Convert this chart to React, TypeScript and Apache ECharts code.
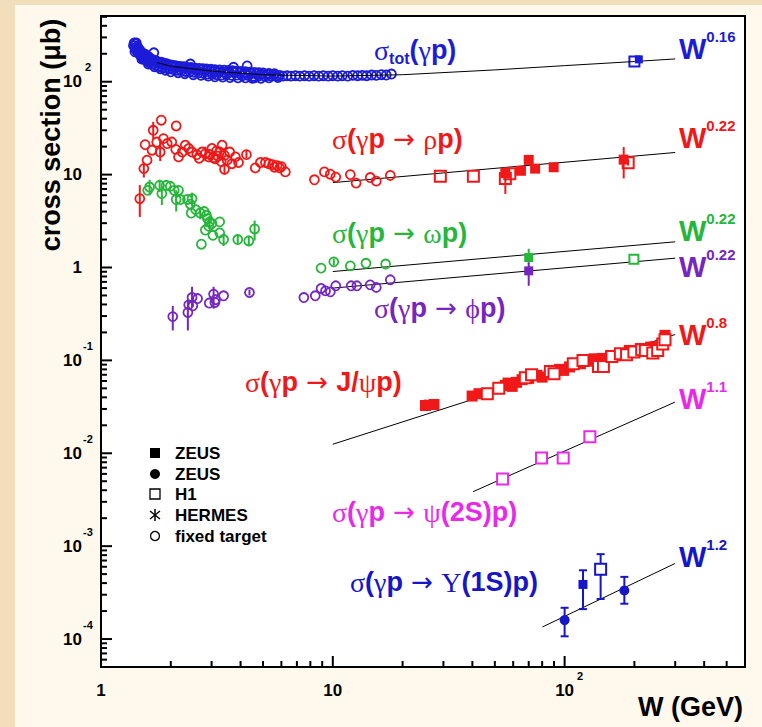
import React, { useEffect, useRef } from 'react';
import * as echarts from 'echarts';

const SANS = '"Liberation Sans", Arial, Helvetica, sans-serif';
const SERIF = '"Liberation Serif", "DejaVu Serif", "Times New Roman", serif';
const ARROWFONT = '"DejaVu Sans", "Liberation Sans", sans-serif';

const C_BLUE = '#1c1cd8';
const C_RED = '#f01818';
const C_GREEN = '#26b63a';
const C_PURPLE = '#7626c0';
const C_MAGENTA = '#e82ae8';
const C_UPS = '#1616c8';

const X_MIN = 1;
const X_MAX = 600;
const Y_MIN = 5e-5;
const Y_MAX = 510;

// ---------- tick labels ----------
const X_TICK_VALUES = [1, 10, 100];
const X_TICK_TEXTS = ['{pre| }{b|1}{sup| }', '{pre| }{b|10}{sup| }', '{pre| }{b|10}{sup|2}'];
const Y_TICK_VALUES = [1e-4, 1e-3, 1e-2, 0.1, 1, 10, 100];
const Y_TICK_TEXTS = ['{b|10}{sup|-4}', '{b|10}{sup|-3}', '{b|10}{sup|-2}', '{b|10}{sup|-1}', '{b|1}{sup| }', '{b|10}{sup| }', '{b|10}{sup|2}'];
const X_DECADES = [1, 10, 100];
const Y_DECADES = [1e-5, 1e-4, 1e-3, 1e-2, 0.1, 1, 10, 100];
const MINOR_MULT = [2, 3, 4, 5, 6, 7, 8, 9];

// ---------- sigma_tot(gamma p) ----------
const totFixed: number[][] = [
  [1.38, 245], [1.39, 262], [1.40, 230], [1.41, 255], [1.42, 218], [1.43, 240], [1.44, 208], [1.45, 228],
  [1.46, 200], [1.47, 218], [1.48, 192], [1.49, 208], [1.50, 185], [1.51, 198], [1.52, 178], [1.54, 190],
  [1.55, 172], [1.57, 182], [1.58, 166], [1.60, 176], [1.62, 160], [1.64, 170], [1.66, 156], [1.69, 205],
  [1.70, 165], [1.72, 150], [1.75, 160], [1.78, 146], [1.81, 156], [1.84, 143], [1.87, 153], [1.90, 140],
  [1.94, 150], [1.97, 138], [2.01, 147], [2.05, 135], [2.09, 145], [2.13, 133], [2.18, 143], [2.22, 131],
  [2.27, 141], [2.32, 129], [2.37, 139], [2.43, 155], [2.42, 128], [2.47, 137], [2.52, 126], [2.58, 135],
  [2.64, 125], [2.70, 134], [2.76, 123], [2.82, 132], [2.88, 121], [2.95, 131], [3.02, 120], [3.09, 129],
  [3.16, 119], [3.23, 128], [3.31, 118], [3.40, 127], [3.48, 119], [3.57, 126], [3.66, 117], [3.73, 143],
  [3.76, 125], [3.86, 118], [3.96, 124], [4.07, 116], [4.18, 123], [4.27, 148], [4.30, 117], [4.42, 122],
  [4.55, 115], [4.60, 110], [4.68, 121], [4.82, 116], [4.96, 120], [5.10, 114], [5.25, 119], [5.40, 115],
  [5.56, 118], [5.72, 114], [5.90, 117], [6.10, 115], [6.35, 116], [6.60, 115], [6.90, 116], [7.20, 115],
  [7.55, 116], [7.90, 115], [8.30, 116], [8.70, 115], [9.10, 116], [9.55, 115], [10.0, 116], [10.5, 115],
  [11.0, 116], [11.6, 115], [12.2, 117], [12.8, 116], [13.4, 117], [14.0, 116], [14.7, 118], [15.4, 117],
  [16.2, 119], [17.0, 118], [17.9, 121],
  [1.40, 210], [1.42, 262], [1.44, 235], [1.46, 222], [1.48, 212], [1.50, 205], [1.52, 195], [1.55, 198],
  [1.58, 185], [1.61, 185], [1.65, 175], [1.68, 172], [1.73, 168], [1.77, 160], [1.82, 162], [1.88, 158],
  [1.93, 155], [2.00, 152], [2.06, 150], [2.12, 148], [2.20, 146], [2.28, 145], [2.35, 143], [2.45, 142],
  [2.55, 140], [2.65, 139], [2.75, 138], [2.85, 137], [2.98, 136], [3.10, 135], [3.25, 134], [3.40, 133],
  [3.55, 132], [3.70, 131], [3.85, 130], [4.00, 129], [4.20, 128], [4.40, 127], [4.60, 126], [4.80, 125],
  [5.00, 124], [5.30, 123], [5.60, 122],
  [1.50, 175], [1.60, 155], [1.70, 145], [1.80, 138], [1.90, 133], [2.00, 128], [2.15, 125], [2.30, 122],
  [2.50, 119], [2.70, 117], [2.90, 115], [3.10, 113], [3.35, 112], [3.60, 111], [3.90, 110], [4.20, 110],
  [4.50, 109], [4.90, 109], [5.30, 110], [5.80, 111],
];
const totH1: number[][] = [[200, 165]];
const totZEUS: number[][] = [[209, 174]];
const totFit: number[][] = [
  [1.75, 160], [2, 147], [3, 130], [5, 119], [10, 115], [20, 119], [50, 134], [100, 149], [200, 165], [300, 176],
];

// ---------- rho ----------
const rhoFixed: number[][] = [
  [1.47, 5.5], [1.53, 11.6], [1.55, 21], [1.58, 14.3], [1.66, 18.3], [1.68, 30], [1.74, 22.4], [1.80, 17.5],
  [1.82, 38.5], [1.86, 24.4], [1.93, 21.6], [2.02, 22.4], [2.10, 18.7], [2.11, 33.4], [2.16, 15.5], [2.24, 17.5],
  [2.31, 20.7], [2.39, 19.1], [2.47, 17.5], [2.59, 16.4], [2.65, 15.0], [2.73, 17.5], [2.82, 16.8], [2.91, 15.5],
  [2.95, 16.5], [3.01, 19.1], [3.05, 15.2], [3.11, 14.8], [3.15, 18.0], [3.20, 15.8], [3.25, 17.5], [3.30, 13.8],
  [3.33, 20.7], [3.41, 16.1], [3.41, 11.4], [3.50, 14.3], [3.59, 17.5], [3.67, 13.1], [3.80, 15.5], [3.92, 13.5],
  [4.24, 16.4], [4.63, 11.8], [4.87, 13.5], [5.12, 13.5], [5.30, 13.1], [5.50, 12.8], [5.60, 12.0], [5.75, 12.5],
  [5.90, 11.8], [6.00, 12.2], [6.24, 10.7],
  [8.33, 8.8], [9.2, 10.7], [9.75, 10.1], [10.3, 9.4], [11.9, 10.0], [12.6, 8.1], [14.5, 9.3], [15.4, 8.5], [17.7, 9.8],
];
const rhoFixedErr: number[][] = [
  [1.47, 3.5, 7.7], [1.53, 9.3, 13.5], [1.68, 24, 37], [1.80, 14, 22.5], [2.82, 14, 20], [3.41, 10, 13], [4.24, 15, 18],
];
const rhoH1: number[][] = [[29.1, 9.6], [40.4, 9.6], [55.5, 9.1], [58, 10.2], [188, 13.4]];
const rhoZEUS: number[][] = [[55.5, 10.4], [64.8, 11.0], [70, 14.4], [74.6, 11.6], [89.7, 12.0], [179.8, 14.5]];
const rhoHeraErr: number[][] = [[55.5, 6.2, 10.5], [70, 13, 16.2], [179.8, 9.1, 19.8], [188, 12.5, 14.5]];
const rhoFit: number[][] = [[10, 8.2], [300, 17.3]];

// ---------- omega ----------
const omegaFixed: number[][] = [
  [1.59, 6.77], [1.62, 7.35], [1.79, 7.67], [1.83, 6.24], [1.91, 7.67], [1.99, 7.48], [2.07, 6.77], [2.16, 6.77],
  [2.11, 5.39], [2.20, 5.39], [2.36, 5.4], [2.43, 4.8], [2.47, 5.5], [2.45, 3.86], [2.56, 4.2], [2.68, 3.86],
  [2.79, 4.0], [2.85, 3.65], [2.88, 3.35], [2.94, 3.1], [2.92, 2.77], [3.01, 2.97], [3.25, 3.1], [2.82, 2.53],
  [3.04, 2.22], [3.25, 2.36], [3.38, 2.0], [2.71, 1.78], [3.89, 2.0], [4.34, 1.93], [4.60, 2.6],
  [8.9, 0.985], [10.1, 1.15], [11.9, 1.04], [13.9, 1.11], [16.9, 1.09],
];
const omegaFixedErr: number[][] = [
  [1.62, 6.0, 8.8], [1.79, 6.5, 8.8], [1.83, 4.7, 7.5], [2.11, 4.0, 6.8], [2.47, 4.6, 6.4], [2.68, 3.3, 4.5],
  [2.94, 2.6, 3.6], [3.38, 1.7, 2.3], [3.89, 1.8, 2.2], [4.34, 1.7, 2.2], [4.60, 1.95, 3.2], [10.1, 1.05, 1.25],
];
const omegaZEUS: number[][] = [[70, 1.28]];
const omegaH1: number[][] = [[199, 1.23]];
const omegaHeraErr: number[][] = [[70, 1.1, 1.59], [199, 1.1, 1.4]];
const omegaFit: number[][] = [[10, 0.905], [300, 1.89]];

// ---------- phi ----------
const phiFixed: number[][] = [
  [2.04, 0.296], [2.37, 0.328], [2.39, 0.396], [2.47, 0.475], [2.49, 0.387], [2.61, 0.463], [2.93, 0.414],
  [3.06, 0.517], [3.10, 0.42], [3.12, 0.45], [3.38, 0.496], [4.37, 0.538],
  [7.5, 0.475], [8.4, 0.496], [8.9, 0.594], [9.3, 0.56], [9.76, 0.547], [10.3, 0.635], [12.0, 0.635],
  [12.7, 0.635], [14.5, 0.65], [15.4, 0.61], [17.7, 0.737],
];
const phiFixedErr: number[][] = [
  [2.04, 0.21, 0.385], [2.37, 0.21, 0.44], [2.47, 0.37, 0.62], [3.06, 0.36, 0.62], [4.37, 0.5, 0.58],
];
const phiZEUS: number[][] = [[70, 0.92]];
const phiHeraErr: number[][] = [[70, 0.635, 1.13]];
const phiFit: number[][] = [[10, 0.6], [300, 1.26]];

// ---------- J/psi ----------
const jpsiZEUS: number[][] = [
  [25.1, 0.0327], [27.3, 0.0335], [39.9, 0.0413], [42.7, 0.0438], [55.5, 0.0538], [57, 0.057], [59.4, 0.0525],
  [62, 0.058], [65.5, 0.062], [70, 0.064], [76, 0.069], [80, 0.066], [95, 0.08], [99, 0.078], [105, 0.085],
  [117, 0.092], [125, 0.098], [134, 0.104], [145, 0.105], [158, 0.113], [165, 0.112], [190, 0.128], [212, 0.134],
  [235, 0.139], [245, 0.14], [271, 0.186],
];
const jpsiH1: number[][] = [
  [46.4, 0.0438], [52, 0.05], [67.7, 0.065], [72, 0.07], [86.8, 0.076], [90, 0.072], [109, 0.092], [120, 0.1],
  [140, 0.086], [147, 0.086], [160, 0.11], [174, 0.118], [185, 0.115], [199, 0.123], [215, 0.13], [223, 0.128],
  [240, 0.12], [252, 0.128], [265, 0.15], [271, 0.167],
];
const jpsiErr: number[][] = [[25.1, 0.029, 0.038], [99, 0.072, 0.085], [147, 0.079, 0.094]];
const jpsiFit: number[][] = [[10, 0.0125], [300, 0.19]];

// ---------- psi(2S) ----------
const psi2sH1: number[][] = [[54, 0.00528], [79.5, 0.0089], [98.6, 0.0089], [128.5, 0.0151]];
const psi2sFit: number[][] = [[40.3, 0.00386], [299, 0.0355]];

// ---------- Upsilon(1S) ----------
const upsZEUSc: number[][] = [[100, 1.6e-4], [181, 3.33e-4]];
const upsZEUSs: number[][] = [[120, 3.87e-4]];
const upsH1: number[][] = [[143, 5.65e-4]];
const upsErr: number[][] = [[100, 1.07e-4, 2.17e-4], [120, 2.1e-4, 5.5e-4], [143, 2.7e-4, 8.2e-4], [181, 2.4e-4, 4.67e-4]];
const upsFit: number[][] = [[80.3, 1.35e-4], [299, 6.5e-4]];

// ---------- helpers ----------
function scatter(data: number[][], symbol: string, size: number, fill: string, stroke: string, bw: number, z = 6) {
  return {
    type: 'scatter', data, symbol, symbolSize: size, silent: true, z,
    itemStyle: { color: fill, borderColor: stroke, borderWidth: bw, opacity: 1 },
  };
}
function fitLine(data: number[][], z = 3) {
  return { type: 'line', data, symbol: 'none', silent: true, z, lineStyle: { color: '#000', width: 1 } };
}
function errBars(data: number[][], color: string, cap = 0, width = 2, z = 5) {
  return {
    type: 'custom', data, encode: { x: 0, y: [1, 2] }, silent: true, z,
    renderItem: (_p: any, api: any) => {
      const w = api.value(0), lo = api.value(1), hi = api.value(2);
      const a = api.coord([w, lo]);
      const b = api.coord([w, hi]);
      const st = { stroke: color, lineWidth: width };
      const children: any[] = [{ type: 'line', shape: { x1: a[0], y1: a[1], x2: b[0], y2: b[1] }, style: st }];
      if (cap) {
        children.push({ type: 'line', shape: { x1: a[0] - cap, y1: a[1], x2: a[0] + cap, y2: a[1] }, style: st });
        children.push({ type: 'line', shape: { x1: b[0] - cap, y1: b[1], x2: b[0] + cap, y2: b[1] }, style: st });
      }
      return { type: 'group', children };
    },
  };
}
function tickSeries(data: number[][], dir: 'x' | 'y') {
  return {
    type: 'custom', data, encode: { x: 0, y: 1 }, silent: true, z: 20,
    renderItem: (_p: any, api: any) => {
      const pt = api.coord([api.value(0), api.value(1)]);
      const len = api.value(2) ? 11 : 6;
      const shape = dir === 'x'
        ? { x1: pt[0], y1: pt[1], x2: pt[0], y2: pt[1] - len }
        : { x1: pt[0], y1: pt[1], x2: pt[0] + len, y2: pt[1] };
      return { type: 'line', shape, style: { stroke: '#000', lineWidth: 2 } };
    },
  };
}

const xTickData: number[][] = [];
X_DECADES.forEach((d) => {
  xTickData.push([d, Y_MIN, 1]);
  MINOR_MULT.forEach((m) => { const v = m * d; if (v < X_MAX * 0.999) xTickData.push([v, Y_MIN, 0]); });
});
const yTickData: number[][] = [];
Y_DECADES.forEach((d) => {
  if (d > Y_MIN) yTickData.push([X_MIN, d, 1]);
  MINOR_MULT.forEach((m) => { const v = m * d; if (v > Y_MIN * 1.001 && v < Y_MAX * 0.999) yTickData.push([X_MIN, v, 0]); });
});

function labelFor(values: number[], texts: string[]) {
  return (v: number) => {
    for (let i = 0; i < values.length; i++) {
      if (Math.abs(Math.log10(v) - Math.log10(values[i])) < 1e-6) return texts[i];
    }
    return '';
  };
}

const reactRich = (c: string) => ({
  g: { fontFamily: SERIF, fontSize: 28, fill: c, lineHeight: 32 },
  a: { fontFamily: ARROWFONT, fontSize: 26, fill: c, lineHeight: 32 },
  b: { fontFamily: SANS, fontWeight: 'bold', fontSize: 27, fill: c, lineHeight: 32 },
  sub: { fontFamily: SANS, fontWeight: 'bold', fontSize: 16, fill: c, lineHeight: 32, verticalAlign: 'bottom' },
});
const wRich = (c: string) => ({
  w: { fontFamily: SANS, fontWeight: 'bold', fontSize: 29, fill: c, lineHeight: 40 },
  s: { fontFamily: SANS, fontWeight: 'bold', fontSize: 15, fill: c, lineHeight: 15, verticalAlign: 'top' },
});
function txt(x: number, y: number, text: string, rich: any, align = 'left', extra: any = {}) {
  return {
    type: 'text', x, y, silent: true, z: 50,
    style: { text, rich, align, verticalAlign: 'middle', textAlign: align, textVerticalAlign: 'middle' },
    ...extra,
  };
}

const AR = '{a| \u2192 }';
const reactions = [
  { x: 374, y: 50, c: C_BLUE, t: '{g|\u03c3}{sub|tot}{b|(}{g|\u03b3}{b|p)}' },
  { x: 332, y: 139, c: C_RED, t: `{g|\u03c3}{b|(}{g|\u03b3}{b|p}${AR}{g|\u03c1}{b|p)}` },
  { x: 332, y: 233, c: C_GREEN, t: `{g|\u03c3}{b|(}{g|\u03b3}{b|p}${AR}{g|\u03c9}{b|p)}` },
  { x: 374, y: 308, c: C_PURPLE, t: `{g|\u03c3}{b|(}{g|\u03b3}{b|p}${AR}{g|\u03d5}{b|p)}` },
  { x: 245, y: 382, c: C_RED, t: `{g|\u03c3}{b|(}{g|\u03b3}{b|p}${AR}{b|J/}{g|\u03c8}{b|p)}` },
  { x: 332, y: 512, c: C_MAGENTA, t: `{g|\u03c3}{b|(}{g|\u03b3}{b|p}${AR}{g|\u03c8}{b|(2S)p)}` },
  { x: 350, y: 582, c: C_UPS, t: `{g|\u03c3}{b|(}{g|\u03b3}{b|p}${AR}{g|\u03a5}{b|(1S)p)}` },
];
const powerLabels = [
  { y: 49, c: C_BLUE, t: '0.16' },
  { y: 138, c: C_RED, t: '0.22' },
  { y: 231, c: C_GREEN, t: '0.22' },
  { y: 267, c: C_PURPLE, t: '0.22' },
  { y: 335, c: C_RED, t: '0.8' },
  { y: 399, c: C_MAGENTA, t: '1.1' },
  { y: 557, c: C_UPS, t: '1.2' },
];
const legendNames = ['ZEUS', 'ZEUS', 'H1', 'HERMES', 'fixed target'];
const legendRows = [453, 474, 494, 515, 536];

export default function App() {
  const ref = useRef<HTMLDivElement>(null);
  useEffect(() => {
    const chart = echarts.init(ref.current!, null, { renderer: 'svg' });
    const legendFont = { fontFamily: SANS, fontWeight: 'bold', fontSize: 17, fill: '#000' };
    const lx = 155;
    const graphic: any[] = [
      { type: 'rect', z: -10, silent: true, shape: { x: 15, y: 5, width: 747, height: 722 }, style: { fill: '#fff8ec' } },
      txt(51, 135, 'cross section (\u03bcb)', {}, 'center', { rotation: Math.PI / 2, style: { text: 'cross section (\u03bcb)', fontFamily: SANS, fontWeight: 'bold', fontSize: 27, fill: '#000', align: 'center', verticalAlign: 'middle', textAlign: 'center', textVerticalAlign: 'middle' } }),
      txt(743, 707, 'W (GeV)', {}, 'right', { style: { text: 'W (GeV)', fontFamily: SANS, fontWeight: 'bold', fontSize: 27, fill: '#000', align: 'right', verticalAlign: 'middle', textAlign: 'right', textVerticalAlign: 'middle' } }),
      // legend markers
      { type: 'rect', silent: true, z: 50, shape: { x: lx - 5, y: legendRows[0] - 5, width: 10, height: 10 }, style: { fill: '#000' } },
      { type: 'circle', silent: true, z: 50, shape: { cx: lx, cy: legendRows[1], r: 5 }, style: { fill: '#000' } },
      { type: 'rect', silent: true, z: 50, shape: { x: lx - 5, y: legendRows[2] - 5, width: 10, height: 10 }, style: { fill: '#fff', stroke: '#000', lineWidth: 1.3 } },
      { type: 'line', silent: true, z: 50, shape: { x1: lx, y1: legendRows[3] - 6, x2: lx, y2: legendRows[3] + 6 }, style: { stroke: '#000', lineWidth: 1.5 } },
      { type: 'line', silent: true, z: 50, shape: { x1: lx - 5, y1: legendRows[3] - 4, x2: lx + 5, y2: legendRows[3] + 4 }, style: { stroke: '#000', lineWidth: 1.5 } },
      { type: 'line', silent: true, z: 50, shape: { x1: lx - 5, y1: legendRows[3] + 4, x2: lx + 5, y2: legendRows[3] - 4 }, style: { stroke: '#000', lineWidth: 1.5 } },
      { type: 'circle', silent: true, z: 50, shape: { cx: lx, cy: legendRows[4], r: 4.5 }, style: { fill: '#fff', stroke: '#000', lineWidth: 1.3 } },
      ...legendNames.map((n, i) => ({
        type: 'text', silent: true, z: 50, x: 175, y: legendRows[i],
        style: { text: n, ...legendFont, align: 'left', verticalAlign: 'middle', textAlign: 'left', textVerticalAlign: 'middle' },
      })),
      ...reactions.map((r) => txt(r.x, r.y, r.t, reactRich(r.c))),
      ...powerLabels.map((p) => txt(679, p.y, `{w|W}{s|${p.t}}`, wRich(p.c))),
    ];

    const axisRich = {
      b: { fontFamily: SANS, fontWeight: 'bold', fontSize: 17, color: '#000', lineHeight: 40 },
      sup: { fontFamily: SANS, fontWeight: 'bold', fontSize: 11, color: '#000', lineHeight: 11, verticalAlign: 'top', width: 10, align: 'left', padding: [0, 0, 0, 1] },
      pre: { fontSize: 11, width: 11, lineHeight: 11 },
    };

    const option: any = {
      animation: false,
      backgroundColor: '#f3debb',
      grid: { left: 101, right: 17, top: 16, bottom: 60, show: true, backgroundColor: '#ffffff', borderColor: '#000', borderWidth: 2 },
      xAxis: {
        type: 'log', logBase: 10, min: X_MIN, max: X_MAX,
        axisLine: { show: false }, axisTick: { show: false }, splitLine: { show: false }, minorTick: { show: false },
        axisLabel: { margin: 3, formatter: labelFor(X_TICK_VALUES, X_TICK_TEXTS), rich: axisRich, showMinLabel: true, showMaxLabel: false },
      },
      yAxis: {
        type: 'log', logBase: 10, min: Y_MIN, max: Y_MAX,
        axisLine: { show: false }, axisTick: { show: false }, splitLine: { show: false }, minorTick: { show: false },
        axisLabel: { margin: 8, formatter: labelFor(Y_TICK_VALUES, Y_TICK_TEXTS), rich: axisRich, showMinLabel: false, showMaxLabel: false },
      },
      graphic,
      series: [
        tickSeries(xTickData, 'x'),
        tickSeries(yTickData, 'y'),
        // fits
        fitLine(rhoFit), fitLine(omegaFit), fitLine(phiFit), fitLine(jpsiFit), fitLine(psi2sFit), fitLine(upsFit),
        // sigma tot
        scatter(totFixed, 'circle', 9, 'rgba(0,0,0,0)', C_BLUE, 1.8, 4),
        fitLine(totFit, 7),
        scatter(totH1, 'rect', 10, '#fff', C_BLUE, 2),
        scatter(totZEUS, 'rect', 8, C_BLUE, C_BLUE, 0, 7),
        // rho
        errBars(rhoFixedErr, C_RED), errBars(rhoHeraErr, C_RED),
        scatter(rhoFixed, 'circle', 9, 'rgba(0,0,0,0)', C_RED, 1.8),
        scatter(rhoH1, 'rect', 11, 'rgba(0,0,0,0)', C_RED, 2, 7),
        scatter(rhoZEUS, 'rect', 10, C_RED, C_RED, 0),
        // omega
        errBars(omegaFixedErr, C_GREEN), errBars(omegaHeraErr, C_GREEN),
        scatter(omegaFixed, 'circle', 9, 'rgba(0,0,0,0)', C_GREEN, 1.8),
        scatter(omegaZEUS, 'rect', 9, C_GREEN, C_GREEN, 0),
        scatter(omegaH1, 'rect', 9, '#fff', C_GREEN, 2),
        // phi
        errBars(phiFixedErr, C_PURPLE), errBars(phiHeraErr, C_PURPLE),
        scatter(phiFixed, 'circle', 9, 'rgba(0,0,0,0)', C_PURPLE, 1.8),
        scatter(phiZEUS, 'rect', 9, C_PURPLE, C_PURPLE, 0),
        // J/psi
        errBars(jpsiErr, C_RED),
        scatter(jpsiZEUS, 'rect', 11, C_RED, C_RED, 0),
        scatter(jpsiH1, 'rect', 11, '#fff', C_RED, 2, 7),
        // psi(2S)
        scatter(psi2sH1, 'rect', 11, '#fff', C_MAGENTA, 2),
        // Upsilon
        errBars(upsErr, C_UPS, 4),
        scatter(upsZEUSc, 'circle', 10, C_UPS, C_UPS, 0),
        scatter(upsZEUSs, 'rect', 9, C_UPS, C_UPS, 0),
        scatter(upsH1, 'rect', 11, '#fff', C_UPS, 2),
      ],
    };
    chart.setOption(option);
    return () => chart.dispose();
  }, []);
  return <div ref={ref} style={{ position: 'absolute', left: 0, top: 0, width: 762, height: 727 }} />;
}
